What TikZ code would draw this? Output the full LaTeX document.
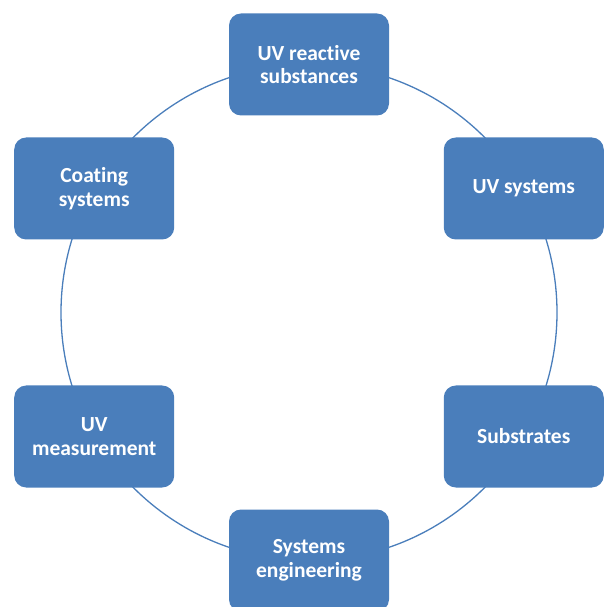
\documentclass[tikz,border=0pt]{standalone}
\usepackage{fontspec}
\setmainfont{Carlito}[Ligatures=NoCommon]
\usepackage{xcolor}
\usetikzlibrary{calc}
\definecolor{boxblue}{HTML}{4A7EBB}
\tikzset{
    topic/.style={fill=boxblue, draw=none, rounded corners=12pt,
        minimum width=160pt, minimum height=102pt, align=center,
        text=white, font=\bfseries\fontsize{21.5}{23.5}\selectfont},
    ring/.style={draw=boxblue, line width=1.3pt}
}

\begin{document}
\begin{tikzpicture}[x=1pt, y=1pt]
    \useasboundingbox (0, 0) rectangle (611, 606);
    \clip (0, 0) rectangle (611, 606);

    \coordinate (hub) at (309, 293.5);
    \draw[ring] (hub) circle (248);

    \foreach \ang/\name/\txt in {90/uvsub/{UV reactive\\substances},
                                 30/uvsys/{UV systems},
                                 -30/subst/{Substrates},
                                 -90/syseng/{Systems\\engineering},
                                 -150/uvmeas/{UV\\measurement},
                                 150/coat/{Coating\\systems}}
        \node[topic] (\name) at ($(hub) + (\ang:248)$) {\txt};
\end{tikzpicture}
\end{document}
